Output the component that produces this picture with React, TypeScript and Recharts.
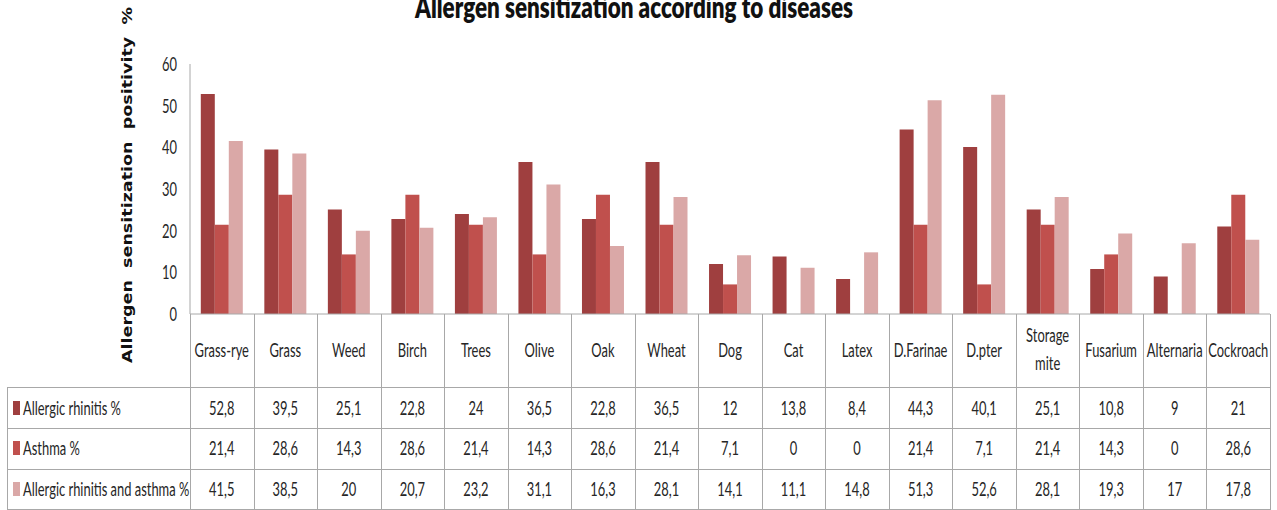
import React from 'react';
import { BarChart, Bar, XAxis, YAxis } from 'recharts';

const categories = ['Grass-rye', 'Grass', 'Weed', 'Birch', 'Trees', 'Olive', 'Oak', 'Wheat', 'Dog', 'Cat', 'Latex', 'D.Farinae', 'D.pter', 'Storage mite', 'Fusarium', 'Alternaria', 'Cockroach'];
const rhinitis = [52.8, 39.5, 25.1, 22.8, 24, 36.5, 22.8, 36.5, 12, 13.8, 8.4, 44.3, 40.1, 25.1, 10.8, 9, 21];
const asthma = [21.4, 28.6, 14.3, 28.6, 21.4, 14.3, 28.6, 21.4, 7.1, 0, 0, 21.4, 7.1, 21.4, 14.3, 0, 28.6];
const both = [41.5, 38.5, 20, 20.7, 23.2, 31.1, 16.3, 28.1, 14.1, 11.1, 14.8, 51.3, 52.6, 28.1, 19.3, 17, 17.8];
const seriesNames = ['Allergic rhinitis %', 'Asthma %', 'Allergic rhinitis and asthma %'];
const yTicks = [0, 10, 20, 30, 40, 50, 60];
const title = 'Allergen sensitization according to diseases';
const yLabel = 'Allergen  sensitization  positivity  %';

const colors = ['#9F3F3F', '#C0504D', '#DAA8A7'];

const W = 1277;
const H = 510;
const PLOT_L = 190;
const PLOT_R = 1270;
const PLOT_T = 64;
const PLOT_B = 314;
const ROW_LINES = [387, 428, 469];
const ROW_CENTERS = [408, 448, 489];
const TABLE_L = 7;
const GRID = '#A8A8A8';
const FONT = 'Lato, "Liberation Sans", sans-serif';
const SX = 0.68;
const TXT = '#262626';

const data = categories.map((name, i) => ({ name, rhinitis: rhinitis[i], asthma: asthma[i], both: both[i] }));
const rows = [rhinitis, asthma, both];
const fmt = (v: number) => String(v).replace('.', ',');

function Cond({ x, y, children, anchor = 'middle', size = 19 }: any) {
  return (
    <g transform={`translate(${x},${y}) scale(${SX},1)`}>
      <text x={0} y={0} textAnchor={anchor} fontFamily={FONT} fontSize={size} fill={TXT}>
        {children}
      </text>
    </g>
  );
}

const XTick = (props: any) => {
  const { x, index, payload } = props;
  const bw = (PLOT_R - PLOT_L) / categories.length;
  const label = String(payload.value);
  const lines = label.includes(' ') ? label.split(' ') : [label];
  const rightX = Math.round(x + bw / 2) + 0.5;
  return (
    <g>
      {index === 0 && (
        <line x1={PLOT_L + 0.5} x2={PLOT_L + 0.5} y1={PLOT_B} y2={H} stroke={GRID} strokeWidth={1} />
      )}
      <line x1={rightX} x2={rightX} y1={PLOT_B} y2={H} stroke={GRID} strokeWidth={1} />
      {lines.length === 1 ? (
        <Cond x={x} y={357}>{lines[0]}</Cond>
      ) : (
        lines.map((l, i) => (
          <Cond key={i} x={x} y={342 + i * 28}>{l}</Cond>
        ))
      )}
      {rows.map((r, ri) => (
        <Cond key={ri} x={x} y={ROW_CENTERS[ri] + 7}>{fmt(r[index])}</Cond>
      ))}
    </g>
  );
};

const YTick = (props: any) => {
  const { y, payload } = props;
  return <Cond x={PLOT_L - 13} y={y + 7} anchor="end">{payload.value}</Cond>;
};

export default function App() {
  return (
    <div style={{ position: 'absolute', left: 0, top: 0, width: W, height: H, background: '#fff' }}>
      <BarChart
        width={W}
        height={H}
        data={data}
        margin={{ top: PLOT_T, right: W - PLOT_R, bottom: 0, left: PLOT_L - 60 }}
        barCategoryGap="17%"
        barGap={0}
      >
        <XAxis
          dataKey="name"
          height={H - PLOT_B}
          interval={0}
          tickLine={false}
          axisLine={{ stroke: GRID, strokeWidth: 1 }}
          tick={<XTick />}
        />
        <YAxis
          width={60}
          domain={[0, 60]}
          ticks={yTicks}
          tickLine={false}
          axisLine={{ stroke: GRID, strokeWidth: 1 }}
          tick={<YTick />}
        />
        <Bar dataKey="rhinitis" name={seriesNames[0]} fill={colors[0]} isAnimationActive={false} />
        <Bar dataKey="asthma" name={seriesNames[1]} fill={colors[1]} isAnimationActive={false} />
        <Bar dataKey="both" name={seriesNames[2]} fill={colors[2]} isAnimationActive={false} />
      </BarChart>
      <svg width={W} height={H} style={{ position: 'absolute', left: 0, top: 0, pointerEvents: 'none' }}>
        <text
          x={634}
          y={18}
          textAnchor="middle"
          fontFamily={FONT}
          fontWeight={800}
          fontSize={30}
          fill="#111"
          textLength={438}
          lengthAdjust="spacingAndGlyphs"
        >
          {title}
        </text>
        <text
          x={132}
          y={185}
          transform="rotate(-90, 132, 185)"
          textAnchor="middle"
          fontFamily='"DejaVu Sans", sans-serif'
          fontWeight={700}
          fontSize={14}
          fill="#111"
          textLength={356}
          lengthAdjust="spacingAndGlyphs"
          style={{ whiteSpace: 'pre' }}
        >
          {yLabel}
        </text>
        {ROW_LINES.map((y) => (
          <line key={y} x1={TABLE_L} x2={PLOT_R + 1} y1={y + 0.5} y2={y + 0.5} stroke={GRID} strokeWidth={1} />
        ))}
        <line x1={TABLE_L} x2={PLOT_R + 1} y1={H - 0.5} y2={H - 0.5} stroke={GRID} strokeWidth={1} />
        <line x1={TABLE_L + 0.5} x2={TABLE_L + 0.5} y1={ROW_LINES[0]} y2={H} stroke={GRID} strokeWidth={1} />
        {seriesNames.map((s, i) => (
          <g key={s}>
            <rect x={13} y={ROW_CENTERS[i] - 7} width={7} height={14} fill={colors[i]} />
            <Cond x={23} y={ROW_CENTERS[i] + 7} anchor="start">{s}</Cond>
          </g>
        ))}
      </svg>
    </div>
  );
}
